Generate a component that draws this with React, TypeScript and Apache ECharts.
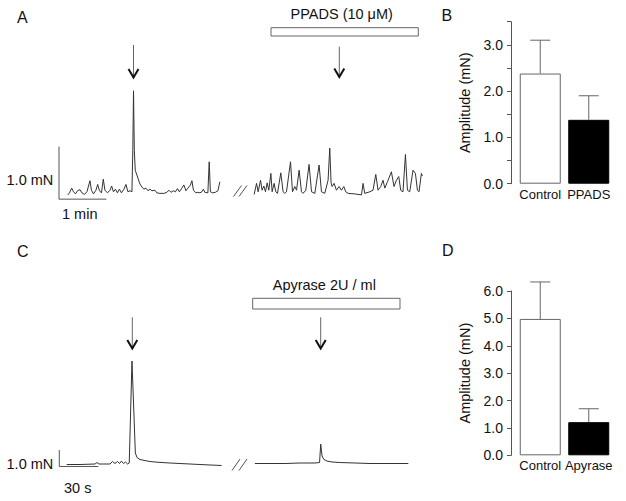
import React, { useEffect, useRef } from "react";
import * as echarts from "echarts";

const FONT = "'Liberation Sans', Arial, Helvetica, sans-serif";
const INK = "#111";
const AX = "#555";
const TRACE = "#333";

// ---------- Panel A: spontaneous contractions (time s, force mN) ----------
const aControlTime = [11, 13.3, 16.1, 18.4, 20.9, 23.4, 26.6, 29.1, 32.3, 35.4, 39.2, 41.1, 43.7, 46.8, 49, 51.3, 53.8, 56.1, 58.2, 61.4, 64.6, 66.7, 69, 71.5, 74, 76.6, 79.1, 82.3, 84.8, 87.3, 89.9, 92.4, 93.5, 94.4, 95.4, 96.6, 100, 102.5, 105.1, 107.6, 110.1, 112.7, 115.2, 117.7, 121.5, 124, 127.8, 132.9, 136.7, 139.2, 141.8, 144.9, 147.5, 150, 152.5, 155.7, 158.2, 160.8, 163.3, 166.5, 168.4, 170.3, 173.4, 175.9, 178.5, 181, 182.9, 184.8, 188.6, 190.3, 191.8, 194.9, 198.1, 201.3, 203.8];
const aControlForce = [0.02, 0.06, 0.15, 0.08, 0.04, 0.10, 0.12, 0.06, 0.03, 0.08, 0.29, 0.11, 0.04, 0.11, 0.22, 0.10, 0.06, 0.32, 0.11, 0.06, 0.11, 0.19, 0.08, 0.13, 0.06, 0.13, 0.06, 0.13, 0.22, 0.08, 0.10, 0.08, 0.87, 2.0, 0.87, 0.49, 0.34, 0.23, 0.17, 0.13, 0.15, 0.10, 0.13, 0.10, 0.11, 0.06, 0.05, 0.05, 0.07, 0.11, 0.07, 0.10, 0.08, 0.14, 0.08, 0.15, 0.21, 0.10, 0.15, 0.21, 0.29, 0.11, 0.06, 0.07, 0.06, 0.08, 0.13, 0.07, 0.06, 0.65, 0.08, 0.06, 0.07, 0.10, 0.27];
const aPpadsTime = [247.2, 250.3, 252.3, 255.3, 257.3, 259.5, 261.6, 263.7, 265.8, 268.4, 270, 272.5, 274.7, 276.8, 281, 283.9, 286.1, 288.2, 293.3, 295.8, 298.7, 300.9, 304.2, 307.2, 309.2, 312.7, 316.8, 319.9, 324.1, 329.5, 332.5, 336.7, 340.9, 343, 344.7, 346, 348.5, 351.5, 354.8, 357.8, 360.8, 363.3, 366.2, 374.7, 383.2, 385.2, 387.3, 393.7, 397.8, 401.3, 404.2, 407.6, 410.5, 412.7, 416.1, 421.1, 424.4, 427.5, 430.4, 432.9, 435.8, 438.9, 441.4, 444.3, 448.5, 451.5, 454.1, 456.1, 459.1, 460.4];
const aPpadsForce = [0.03, 0.24, 0.08, 0.30, 0.11, 0.19, 0.08, 0.25, 0.11, 0.43, 0.08, 0.24, 0.08, 0.05, 0.44, 0.08, 0.05, 0.08, 0.65, 0.08, 0.18, 0.11, 0.49, 0.08, 0.05, 0.11, 0.60, 0.08, 0.05, 0.59, 0.08, 0.05, 0.30, 0.91, 0.25, 0.18, 0.24, 0.11, 0.18, 0.11, 0.18, 0.08, 0.05, 0.04, 0.02, 0.24, 0.05, 0.08, 0.11, 0.41, 0.11, 0.18, 0.30, 0.15, 0.27, 0.46, 0.18, 0.30, 0.37, 0.11, 0.08, 0.79, 0.11, 0.08, 0.49, 0.43, 0.11, 0.08, 0.43, 0.38];
const aScaleTime = 60; // 1 min
const aScaleForce = 1.0; // 1.0 mN
const aScaleBase = -0.06;

// ---------- Panel C: EFS responses (time s, force mN) ----------
const cControlTime = [5.7, 15.9, 27.5, 29, 30.5, 39, 40.9, 42.8, 44.8, 46.3, 47.8, 49.4, 50.9, 52.5, 53.8, 55.9, 58.5, 59.8, 62.1, 65.9, 69.8, 73.6, 79, 85.2, 92.8, 100.5, 108.2, 115.9, 124.9];
const cControlForce = [0, 0, 0.03, 0.12, 0.03, 0.03, 0.18, 0.06, 0.18, 0.06, 0.21, 0.06, 0.15, 0.03, 0.09, 6.27, 0.70, 0.42, 0.30, 0.24, 0.18, 0.15, 0.12, 0.09, 0.06, 0.03, 0, -0.03, -0.06];
const cApyraseTime = [150.5, 162.1, 173.6, 185.2, 196.7, 200.2, 201.1, 202.1, 203.6, 205.9, 209.8, 216, 227.5, 239, 254.4, 268.5];
const cApyraseForce = [0.06, 0.06, 0.06, 0.09, 0.09, 0.12, 1.24, 0.52, 0.30, 0.21, 0.15, 0.12, 0.09, 0.06, 0.06, 0.06];
const cScaleTime = 30; // 30 s
const cScaleForce = 1.0;
const cScaleBase = -0.12;

// ---------- Panel B ----------
const bCategories = ["Control", "PPADS"];
const bMeans = [2.38, 1.38];
const bUpper = [3.1, 1.9];

// ---------- Panel D ----------
const dCategories = ["Control", "Apyrase"];
const dMeans = [4.98, 1.21];
const dUpper = [6.33, 1.7];

const zip = (t: number[], v: number[]) => t.map((x, i) => [x, v[i]]);

const traceSeries = (data: number[][], idx: number) => ({
  type: "line",
  xAxisIndex: idx,
  yAxisIndex: idx,
  data,
  symbol: "none",
  showSymbol: false,
  silent: true,
  lineStyle: { color: TRACE, width: 1 },
});

const scaleSeries = (t: number, f: number, base: number, idx: number) => ({
  type: "line",
  xAxisIndex: idx,
  yAxisIndex: idx,
  data: [
    [0, base + f],
    [0, base],
    [t, base],
  ],
  symbol: "none",
  silent: true,
  lineStyle: { color: AX, width: 1 },
});

const barSeries = (means: number[], idx: number) => ({
  type: "bar",
  xAxisIndex: idx,
  yAxisIndex: idx,
  barWidth: 41,
  silent: true,
  data: means.map((v, i) => ({
    value: v,
    itemStyle:
      i === 0
        ? { color: "#fff", borderColor: "#666", borderWidth: 1 }
        : { color: "#000", borderColor: "#000", borderWidth: 1 },
  })),
});

const errSeries = (means: number[], upper: number[], idx: number) => ({
  type: "custom",
  xAxisIndex: idx,
  yAxisIndex: idx,
  silent: true,
  z: 5,
  data: means.map((m, i) => [i, m, upper[i]]),
  renderItem: (_p: any, api: any) => {
    const i = api.value(0);
    const p0 = api.coord([i, api.value(1)]);
    const p1 = api.coord([i, api.value(2)]);
    return {
      type: "group",
      children: [
        { type: "line", shape: { x1: p0[0], y1: p0[1], x2: p1[0], y2: p1[1] }, style: { stroke: "#666", lineWidth: 1 } },
        { type: "line", shape: { x1: p1[0] - 10, y1: p1[1], x2: p1[0] + 10, y2: p1[1] }, style: { stroke: "#666", lineWidth: 1 } },
      ],
    };
  },
});

const txt = (text: string, x: number, y: number, size: number, align = "left") => ({
  type: "text",
  x,
  y,
  silent: true,
  style: {
    text,
    fontSize: size,
    fontFamily: FONT,
    fill: INK,
    textAlign: align,
    align,
    textVerticalAlign: "middle",
    verticalAlign: "middle",
  },
});

const ln = (x1: number, y1: number, x2: number, y2: number, color = AX, w = 1) => ({
  type: "line",
  silent: true,
  shape: { x1, y1, x2, y2 },
  style: { stroke: color, lineWidth: w },
});

const arrow = (x: number, y1: number, y2: number) => [
  ln(x, y1, x, y2, "#666", 1),
  {
    type: "polyline",
    silent: true,
    shape: { points: [[x - 5, y2 - 8.5], [x, y2], [x + 5, y2 - 8.5]] },
    style: { stroke: "#111", lineWidth: 2, fill: null },
  },
];

const hiddenValueAxis = (idx: number, min: number, max: number) => ({
  type: "value",
  gridIndex: idx,
  min,
  max,
  show: false,
});

const barYAxis = (idx: number, max: number, interval: number) => ({
  type: "value",
  gridIndex: idx,
  min: 0,
  max,
  interval,
  offset: 5,
  name: "Amplitude (mN)",
  nameLocation: "middle",
  nameRotate: 90,
  nameGap: 39,
  nameTextStyle: { fontSize: 14.5, fontFamily: FONT, color: INK },
  axisLine: { show: true, lineStyle: { color: AX, width: 1 } },
  axisTick: { show: true, length: 4, lineStyle: { color: AX } },
  splitLine: { show: false },
  axisLabel: {
    fontSize: 14,
    fontFamily: FONT,
    color: INK,
    margin: 8,
    formatter: (v: number) => (Math.abs(v - Math.round(v)) < 1e-9 ? v.toFixed(1) : ""),
  },
});

const barXAxis = (idx: number, cats: string[]) => ({
  type: "category",
  gridIndex: idx,
  data: cats,
  axisLine: { show: false },
  axisTick: { show: false },
  axisLabel: { fontSize: 13, fontFamily: FONT, color: INK, margin: 4, interval: 0 },
});

export default function App() {
  const ref = useRef<HTMLDivElement>(null);
  useEffect(() => {
    if (!ref.current) return;
    const chart = echarts.init(ref.current, null, { renderer: "svg" });
    chart.setOption({
      animation: false,
      backgroundColor: "#fff",
      textStyle: { fontFamily: FONT },
      grid: [
        { left: 59, top: 64.5, width: 371, height: 157.8 },
        { left: 59.3, top: 349, width: 370.5, height: 132 },
        { left: 516, top: 21.7, width: 97, height: 162 },
        { left: 516, top: 291, width: 97, height: 164.3 },
      ],
      xAxis: [
        hiddenValueAxis(0, 0, 470),
        hiddenValueAxis(1, 0, 285),
        barXAxis(2, bCategories),
        barXAxis(3, dCategories),
      ],
      yAxis: [
        hiddenValueAxis(0, -0.5, 2.5),
        hiddenValueAxis(1, -1, 7),
        barYAxis(2, 3.5, 0.5),
        barYAxis(3, 6, 1),
      ],
      series: [
        traceSeries(zip(aControlTime, aControlForce), 0),
        traceSeries(zip(aPpadsTime, aPpadsForce), 0),
        scaleSeries(aScaleTime, aScaleForce, aScaleBase, 0),
        traceSeries(zip(cControlTime, cControlForce), 1),
        traceSeries(zip(cApyraseTime, cApyraseForce), 1),
        scaleSeries(cScaleTime, cScaleForce, cScaleBase, 1),
        barSeries(bMeans, 2),
        errSeries(bMeans, bUpper, 2),
        barSeries(dMeans, 3),
        errSeries(dMeans, dUpper, 3),
      ],
      graphic: [
        txt("A", 17, 17, 16),
        txt("B", 441.5, 15, 16),
        txt("C", 17, 251, 16),
        txt("D", 442, 250, 16),
        txt("PPADS (10 μM)", 341.7, 13.5, 14.5, "center"),
        txt("Apyrase 2U / ml", 324.3, 285, 14.5, "center"),
        txt("1.0 mN", 53.3, 180, 14.5, "right"),
        txt("1 min", 62, 214, 14.5),
        txt("1.0 mN", 53.3, 464.3, 14.5, "right"),
        txt("30 s", 64, 488, 14.5),
        {
          type: "rect",
          silent: true,
          shape: { x: 271, y: 27.7, width: 147.3, height: 8.3 },
          style: { fill: "#fff", stroke: "#666", lineWidth: 1 },
        },
        {
          type: "rect",
          silent: true,
          shape: { x: 252.7, y: 298.3, width: 147.3, height: 10.7 },
          style: { fill: "#fff", stroke: "#666", lineWidth: 1 },
        },
        ...arrow(133.5, 45, 77.5),
        ...arrow(339.3, 46.7, 77),
        ...arrow(132.3, 317.3, 348.5),
        ...arrow(320.7, 317.3, 348.5),
        ln(233.5, 196.5, 241.5, 185.5),
        ln(239, 196.5, 247, 185.5),
        ln(232, 470.5, 240, 459),
        ln(239, 470.5, 247, 459),
      ],
    });
    return () => chart.dispose();
  }, []);
  return (
    <div
      ref={ref}
      style={{ position: "fixed", left: 0, top: 0, width: 626, height: 501, background: "#fff" }}
    />
  );
}
